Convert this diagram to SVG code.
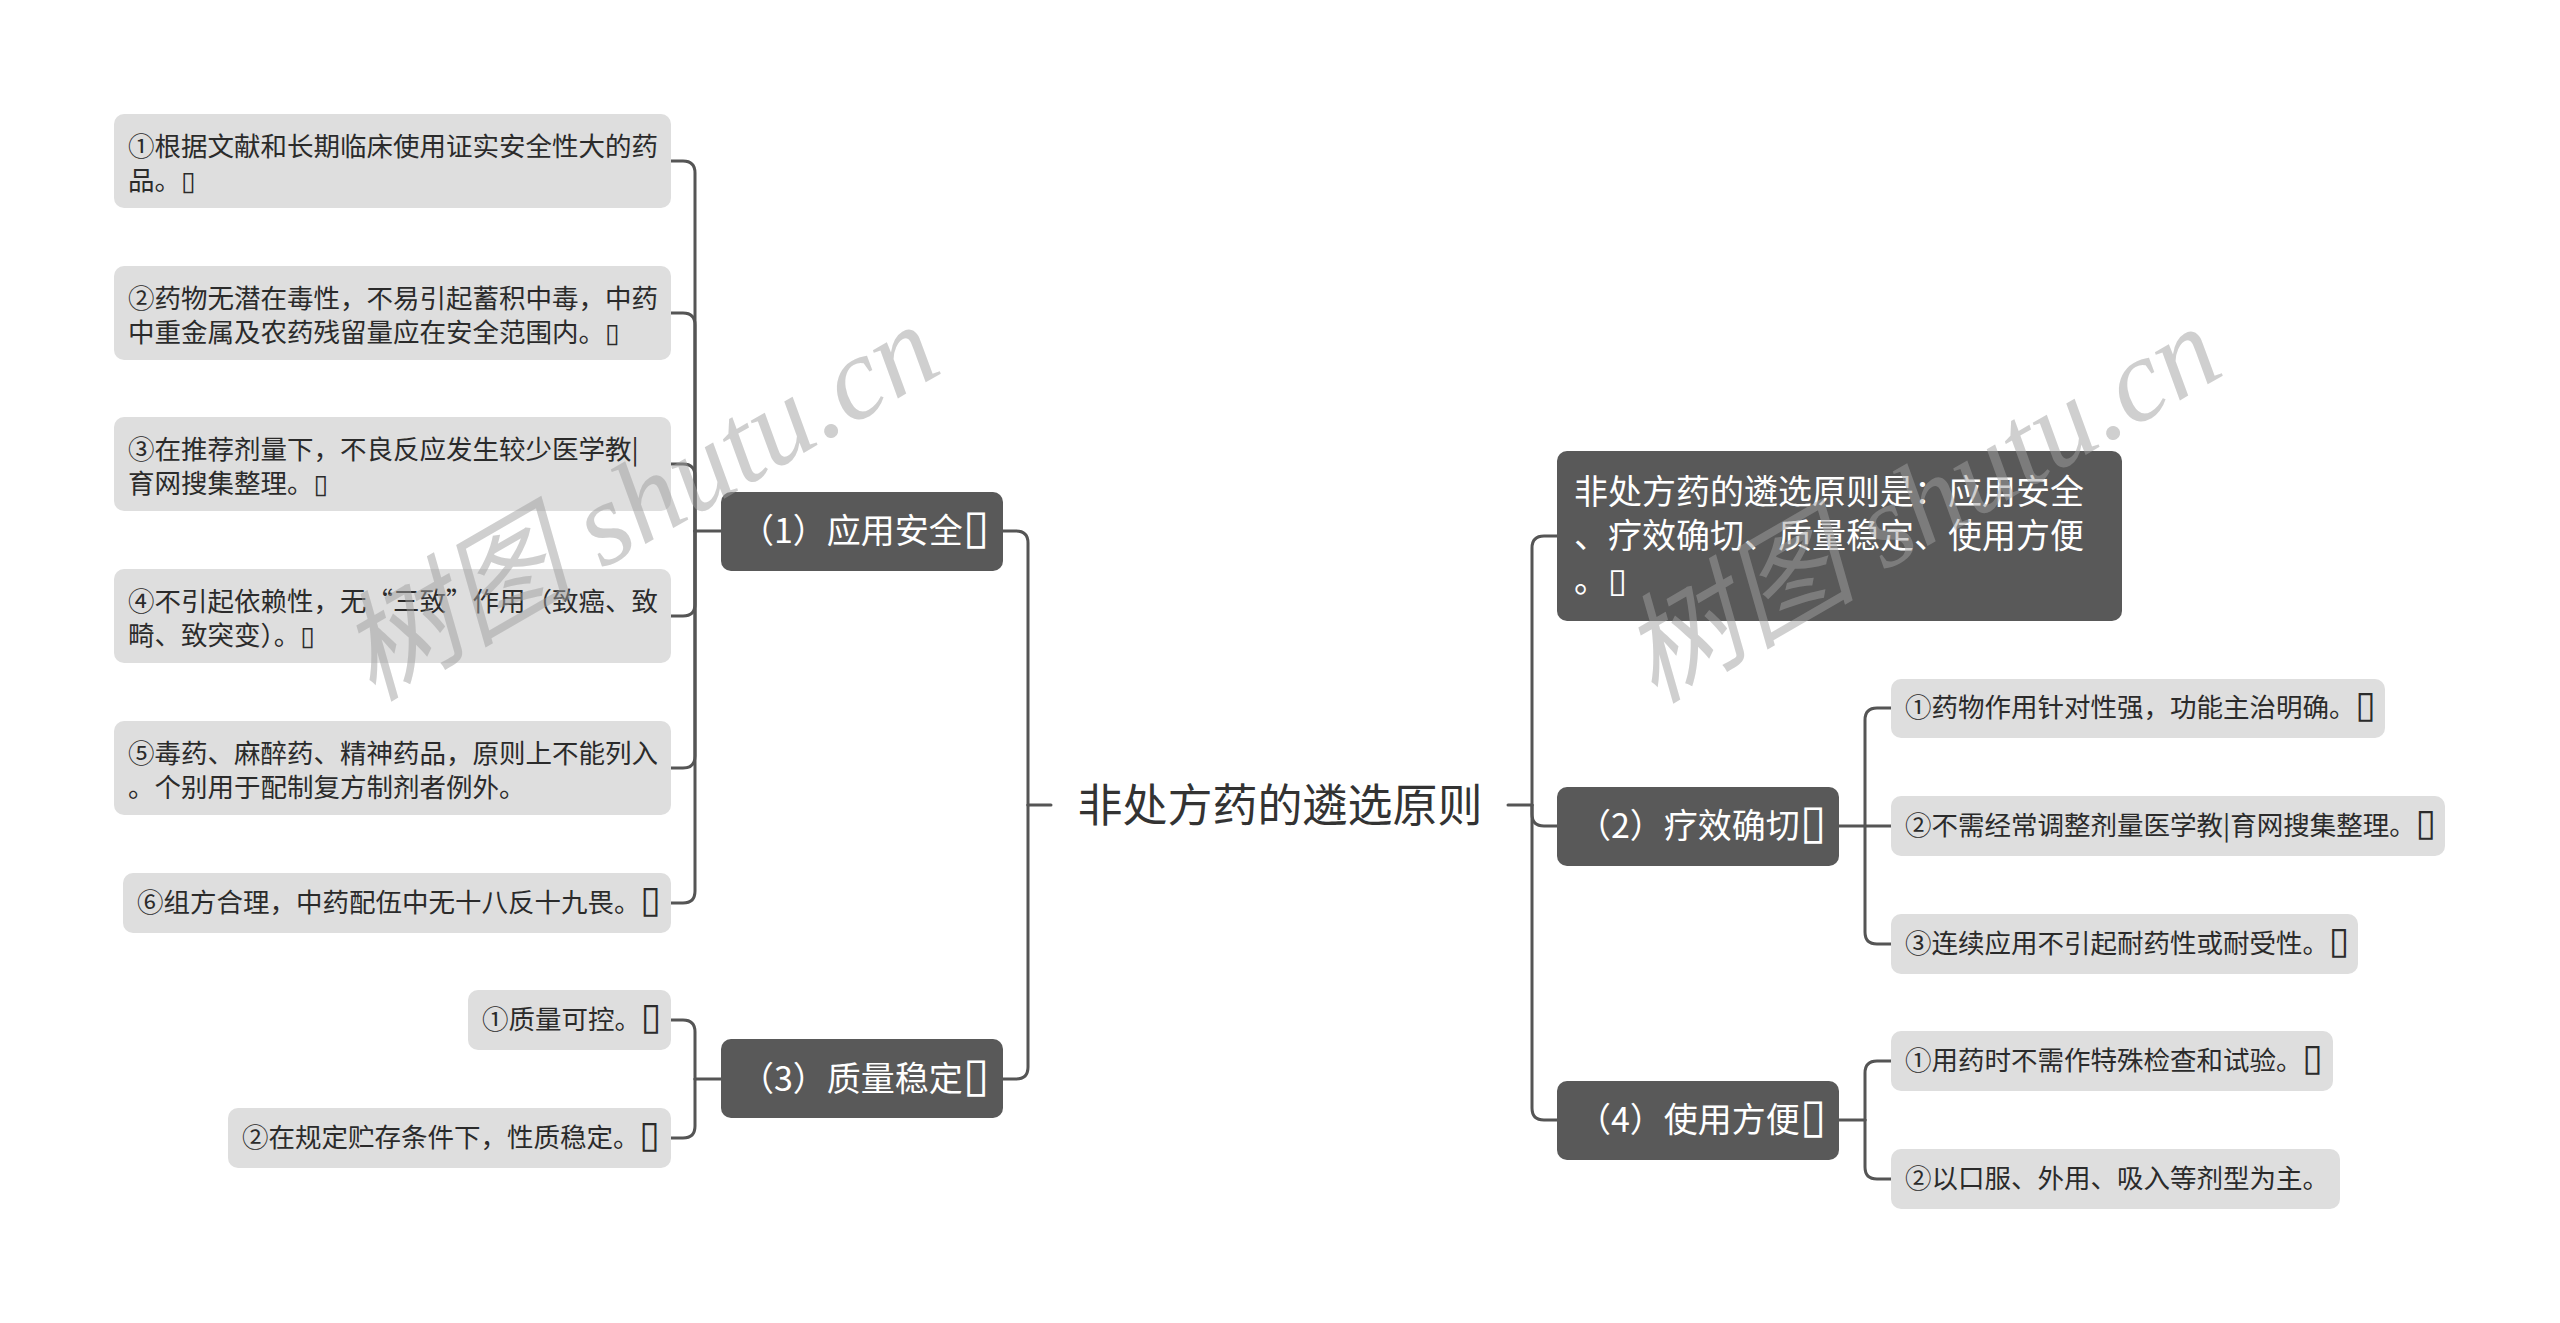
<svg xmlns="http://www.w3.org/2000/svg" width="2560" height="1323" viewBox="0 0 2560 1323">
<style>
.bg{fill:#ffffff}
.leaf rect{fill:#dedede}
.leaf text{fill:#2b2b2b;font-family:"Noto Sans CJK SC","Microsoft YaHei","DejaVu Sans",sans-serif;font-size:26.5px}
.main rect{fill:#595959}
.main text{fill:#ffffff;font-family:"Noto Sans CJK SC","DejaVu Sans",sans-serif;font-size:34px}
.root text{fill:#333333;font-family:"Noto Sans CJK SC",sans-serif;font-size:45px}
.t{font-family:"DejaVu Sans",sans-serif;font-size:140%}
.ts{font-family:"DejaVu Sans",sans-serif}
.conn path{fill:none;stroke:#555555;stroke-width:3;stroke-linecap:round;stroke-linejoin:round}
.wm{fill:#a0a0a0;opacity:0.5;font-family:"Liberation Serif","Noto Sans CJK SC",serif;font-style:italic;font-size:118px}
</style>
<rect class="bg" x="0" y="0" width="2560" height="1323"/>

<g id="connectors" class="conn">
  <path d="M1051 805 H1028"/>
  <path d="M1028 805 V543 Q1028 531 1016 531 H1003"/>
  <path d="M1028 805 V1067 Q1028 1079 1016 1079 H1003"/>
  <path d="M1508 805 H1532"/>
  <path d="M1532 805 V548 Q1532 536 1544 536 H1557"/>
  <path d="M1532 805 V814 Q1532 826 1544 826 H1557"/>
  <path d="M1532 805 V1108 Q1532 1120 1544 1120 H1557"/>
  <path d="M721 531 H695"/>
  <path d="M695 531 V173 Q695 161 683 161 H671"/>
  <path d="M695 531 V325 Q695 313 683 313 H671"/>
  <path d="M695 531 V476 Q695 464 683 464 H671"/>
  <path d="M695 531 V604 Q695 616 683 616 H671"/>
  <path d="M695 531 V756 Q695 768 683 768 H671"/>
  <path d="M695 531 V891 Q695 903 683 903 H671"/>
  <path d="M721 1079 H695"/>
  <path d="M695 1079 V1032 Q695 1020 683 1020 H671"/>
  <path d="M695 1079 V1126 Q695 1138 683 1138 H671"/>
  <path d="M1839 826 H1891"/>
  <path d="M1865 826 V720 Q1865 708 1877 708 H1891"/>
  <path d="M1865 826 V932 Q1865 944 1877 944 H1891"/>
  <path d="M1839 1120 H1865"/>
  <path d="M1865 1120 V1073 Q1865 1061 1877 1061 H1891"/>
  <path d="M1865 1120 V1167 Q1865 1179 1877 1179 H1891"/>
</g>

<g id="root" class="root">
  <text x="1280" y="822" text-anchor="middle">非处方药的遴选原则</text>
</g>

<g id="n1" class="main">
  <rect x="721" y="492" width="282" height="79" rx="10"/>
  <text x="740" y="543">（1）应用安全<tspan class="t">▯</tspan></text>
</g>
<g id="n3" class="main">
  <rect x="721" y="1039" width="282" height="79" rx="10"/>
  <text x="740" y="1091">（3）质量稳定<tspan class="t">▯</tspan></text>
</g>
<g id="desc" class="main">
  <rect x="1557" y="451" width="565" height="170" rx="10"/>
  <text x="1574" y="504">非处方药的遴选原则是：应用安全</text>
  <text x="1574" y="548">、疗效确切、质量稳定、使用方便</text>
  <text x="1574" y="592">。<tspan class="ts">▯</tspan></text>
</g>
<g id="n2" class="main">
  <rect x="1557" y="787" width="282" height="79" rx="10"/>
  <text x="1577" y="838">（2）疗效确切<tspan class="t">▯</tspan></text>
</g>
<g id="n4" class="main">
  <rect x="1557" y="1081" width="282" height="79" rx="10"/>
  <text x="1577" y="1132">（4）使用方便<tspan class="t">▯</tspan></text>
</g>

<g id="l1" class="leaf">
  <rect x="114" y="114" width="557" height="94" rx="10"/>
  <text x="128" y="156">①根据文献和长期临床使用证实安全性大的药</text>
  <text x="128" y="190">品。<tspan class="ts">▯</tspan></text>
</g>
<g id="l2" class="leaf">
  <rect x="114" y="266" width="557" height="94" rx="10"/>
  <text x="128" y="308">②药物无潜在毒性，不易引起蓄积中毒，中药</text>
  <text x="128" y="342">中重金属及农药残留量应在安全范围内。<tspan class="ts">▯</tspan></text>
</g>
<g id="l3" class="leaf">
  <rect x="114" y="417" width="557" height="94" rx="10"/>
  <text x="128" y="459">③在推荐剂量下，不良反应发生较少医学教|</text>
  <text x="128" y="493">育网搜集整理。<tspan class="ts">▯</tspan></text>
</g>
<g id="l4" class="leaf">
  <rect x="114" y="569" width="557" height="94" rx="10"/>
  <text x="128" y="611">④不引起依赖性，无“三致”作用（致癌、致</text>
  <text x="128" y="645">畸、致突变）。<tspan class="ts">▯</tspan></text>
</g>
<g id="l5" class="leaf">
  <rect x="114" y="721" width="557" height="94" rx="10"/>
  <text x="128" y="763">⑤毒药、麻醉药、精神药品，原则上不能列入</text>
  <text x="128" y="797">。个别用于配制复方制剂者例外。</text>
</g>
<g id="l6" class="leaf">
  <rect x="123" y="873" width="548" height="60" rx="10"/>
  <text x="137" y="912">⑥组方合理，中药配伍中无十八反十九畏。<tspan class="t">▯</tspan></text>
</g>
<g id="q1" class="leaf">
  <rect x="468" y="990" width="203" height="60" rx="10"/>
  <text x="482" y="1029">①质量可控。<tspan class="t">▯</tspan></text>
</g>
<g id="q2" class="leaf">
  <rect x="228" y="1108" width="443" height="60" rx="10"/>
  <text x="242" y="1147">②在规定贮存条件下，性质稳定。<tspan class="t">▯</tspan></text>
</g>

<g id="r1" class="leaf">
  <rect x="1891" y="679" width="494" height="59" rx="10"/>
  <text x="1905" y="717">①药物作用针对性强，功能主治明确。<tspan class="t">▯</tspan></text>
</g>
<g id="r2" class="leaf">
  <rect x="1891" y="796" width="554" height="60" rx="10"/>
  <text x="1905" y="835">②不需经常调整剂量医学教|育网搜集整理。<tspan class="t">▯</tspan></text>
</g>
<g id="r3" class="leaf">
  <rect x="1891" y="914" width="467" height="60" rx="10"/>
  <text x="1905" y="953">③连续应用不引起耐药性或耐受性。<tspan class="t">▯</tspan></text>
</g>
<g id="r4" class="leaf">
  <rect x="1891" y="1031" width="442" height="60" rx="10"/>
  <text x="1905" y="1070">①用药时不需作特殊检查和试验。<tspan class="t">▯</tspan></text>
</g>
<g id="r5" class="leaf">
  <rect x="1891" y="1149" width="449" height="60" rx="10"/>
  <text x="1905" y="1188">②以口服、外用、吸入等剂型为主。</text>
</g>

<g id="watermark">
  <text class="wm" transform="translate(372 702) rotate(-30)">树图 shutu.cn</text>
  <text class="wm" transform="translate(1654 704) rotate(-30)">树图 shutu.cn</text>
</g>
</svg>
